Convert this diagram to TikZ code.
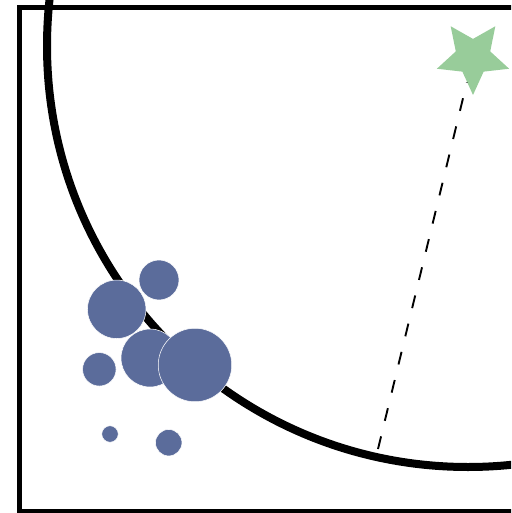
\documentclass[tikz,border=0pt]{standalone}
\usepackage{tikz}
\usetikzlibrary{shapes.geometric, positioning, calc}

\definecolor{blobblue}{RGB}{91,108,155}
\definecolor{stargreen}{RGB}{152,204,154}

\begin{document}
\begin{tikzpicture}[x=0.02cm, y=-0.02cm,
    blob/.style={circle, fill=blobblue, draw=white, line width=0.3pt, inner sep=0pt},
    target/.style={star, star points=5, star point ratio=2.1, shape border rotate=180,
        fill=stargreen, inner sep=0pt, minimum size=1.52cm}]
    \useasboundingbox (0,0) rectangle (511,513);
    \clip (0,0) rectangle (511,513);

    % frame, open to the right
    \draw[line width=0.1cm] (19.5,7.5) rectangle (530,511);

    % boundary circle
    \coordinate (mid) at (468,46);
    \draw[line width=0.16cm] (mid) circle[radius=421];

    \node[target] (star) at (473,57) {};
    \coordinate (foot) at (378,449);
    \draw[line width=0.038cm, dash pattern=on 0.26cm off 0.32cm] (foot) -- (star);

    % samples
    \node[blob, minimum size=0.8cm] (s1) at (159,280) {};
    \node[blob, minimum size=1.17cm] (s2) at (116.7,309.3) {};
    \node[blob, minimum size=1.16cm] (s3) at (150,358) {};
    \node[blob, minimum size=1.47cm] (s4) at (195,365) {};
    \node[blob, minimum size=0.67cm] (s5) at (99.3,369.3) {};
    \node[blob, minimum size=0.33cm] (s6) at (110,434) {};
    \node[blob, minimum size=0.53cm] (s7) at (168.7,442.7) {};
\end{tikzpicture}
\end{document}
